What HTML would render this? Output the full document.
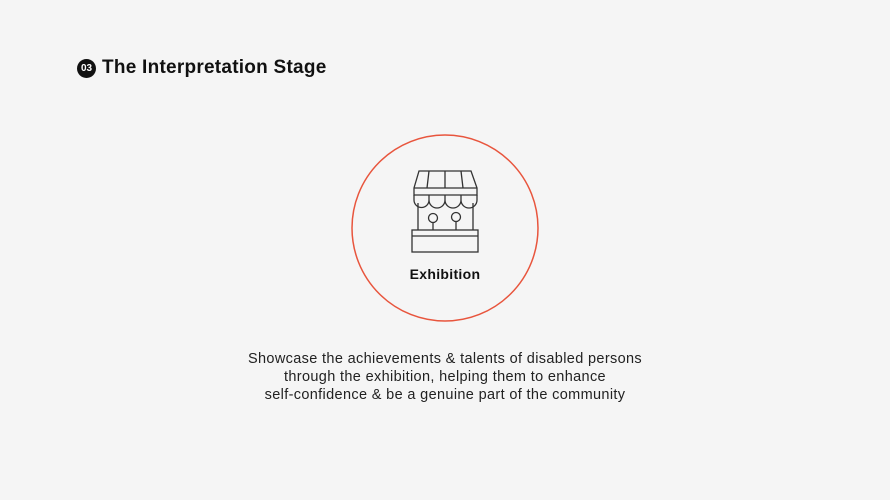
<!DOCTYPE html>
<html><head><meta charset="utf-8"><style>
body{margin:0;width:890px;height:500px;background:#f5f5f5;font-family:"Liberation Sans",sans-serif;position:relative;overflow:hidden}
.t{position:absolute;color:#111}
</style></head><body>
<div style="position:absolute;left:77px;top:59px;width:19px;height:19px;border-radius:50%;background:#111;color:#fff;font-size:10px;font-weight:bold;text-align:center;line-height:19px">03</div>
<div class="t" style="left:102px;top:57px;font-size:19px;font-weight:bold;letter-spacing:0.25px">The Interpretation Stage</div>
<svg width="890" height="500" style="position:absolute;left:0;top:0">
<circle cx="445" cy="228" r="93" fill="none" stroke="#e8553d" stroke-width="1.5"/>
<g fill="none" stroke="#333" stroke-width="1.3">
<path d="M419 171 H471 L477 188 V195 H414 V188 Z"/>
<path d="M414 188 H477"/>
<path d="M429 171 L427 188 M445 171 V188 M461 171 L463 188"/>
<path d="M414 195 V200 A3.8 3.8 0 0 0 429 200 V195 M429 200 A3.8 3.8 0 0 0 445 200 V195 M445 200 A3.8 3.8 0 0 0 461 200 V195 M461 200 A3.8 3.8 0 0 0 477 200 V195"/>
<path d="M418 203 V230 M473 203 V230"/>
<circle cx="433" cy="218" r="4.5"/><path d="M433 222.5 V230"/>
<circle cx="456" cy="217" r="4.5"/><path d="M456 221.5 V230"/>
<rect x="412" y="230" width="66" height="22"/>
<path d="M412 236 H478"/>
</g>
</svg>
<div class="t" style="left:345px;width:200px;text-align:center;top:266px;font-size:14px;font-weight:bold;letter-spacing:0.3px">Exhibition</div>
<div class="t" style="left:145px;width:600px;text-align:center;top:350px;font-size:14.5px;line-height:18px;letter-spacing:0.35px;color:#222">Showcase the achievements &amp; talents of disabled persons<br>through the exhibition, helping them to enhance<br>self-confidence &amp; be a genuine part of the community</div>
</body></html>
